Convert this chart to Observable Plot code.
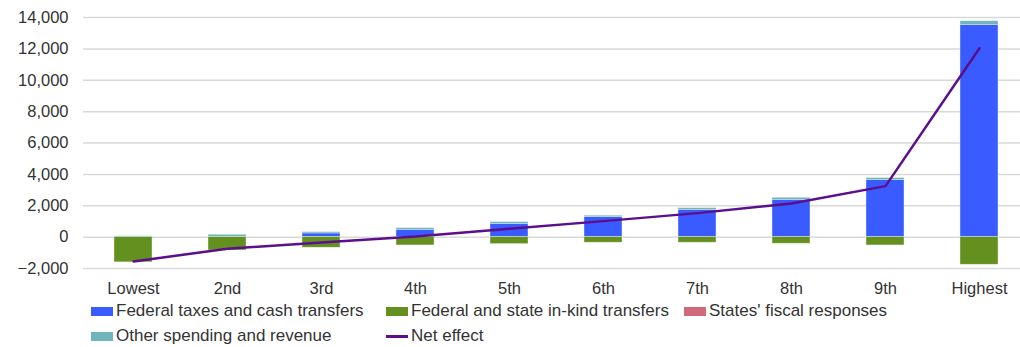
<!DOCTYPE html>
<html>
<head>
<meta charset="utf-8">
<script src="https://cdn.jsdelivr.net/npm/d3@7"></script>
<script src="https://cdn.jsdelivr.net/npm/@observablehq/plot@0.6"></script>
<style>
  html, body { margin: 0; padding: 0; background: #fff; }
  body { width: 1020px; height: 347px; overflow: hidden; font-family: "Liberation Sans", Arial, sans-serif; }
  #legend { display: grid; grid-template-columns: 295px 298px auto; padding-left: 91px; row-gap: 5px; margin-top: 3px; }
  .item { display: flex; align-items: center; font-size: 17px; color: #333; height: 20px; white-space: nowrap; }
  .sw { width: 22px; height: 9px; margin-right: 3px; display: inline-block; }
  .ln { width: 22px; height: 3px; margin-right: 3px; display: inline-block; }
</style>
</head>
<body>
<div id="chart"></div>
<div id="legend"></div>
<script>
const categories = ["Lowest", "2nd", "3rd", "4th", "5th", "6th", "7th", "8th", "9th", "Highest"];
const federalTaxesCash = [0, 0, 235, 470, 850, 1275, 1745, 2380, 3630, 13530];
const inKindTransfers = [-1610, -850, -675, -530, -445, -355, -355, -420, -530, -1760];
const statesFiscal = [0, 0, 0, 0, 0, 0, 0, 0, 0, 0];
const otherSpending = [50, 150, 80, 100, 100, 90, 100, 130, 130, 230];
const netEffect = [-1550, -740, -340, 40, 540, 1020, 1530, 2150, 3250, 12040];
const yTicks = [-2000, 0, 2000, 4000, 6000, 8000, 10000, 12000, 14000];

const seriesNames = ["Federal taxes and cash transfers", "Federal and state in-kind transfers", "States' fiscal responses", "Other spending and revenue"];
const seriesValues = [federalTaxesCash, inKindTransfers, statesFiscal, otherSpending];
const seriesColors = ["#3a5bff", "#63901f", "#d0697a", "#6fb5b9"];
const netColor = "#5b0f8d";

const bars = [];
seriesNames.forEach((s, si) => categories.forEach((c, i) => bars.push({cat: c, series: s, value: seriesValues[si][i]})));
const lineData = categories.map((c, i) => ({cat: c, value: netEffect[i]}));

const chart = Plot.plot({
  width: 1020,
  height: 298,
  marginLeft: 83,
  marginRight: 0,
  marginTop: 17,
  marginBottom: 30,
  style: {fontFamily: "'Liberation Sans', Arial, sans-serif", fontSize: "16.5px", color: "#333", background: "white"},
  x: {domain: categories, range: [83, 1029], paddingInner: 0.6, paddingOuter: 0.3, label: null},
  y: {domain: [-2000, 14000], label: null},
  color: {domain: seriesNames, range: seriesColors},
  marks: [
    Plot.ruleY(yTicks, {stroke: "#d9d9d9", strokeWidth: 1.5}),
    Plot.barY(bars, {x: "cat", y: "value", fill: "series", order: seriesNames, stroke: "#e8f4e8", strokeWidth: 0.6, strokeOpacity: 0.7}),
    Plot.lineY(lineData, {x: "cat", y: "value", stroke: netColor, strokeWidth: 2.5}),
    Plot.axisY({ticks: yTicks, tickSize: 0, tickPadding: 15, tickFormat: d => d3.format(",")(d), fill: "#333"}),
    Plot.axisX({tickSize: 0, tickPadding: 14, fill: "#333"})
  ]
});
document.getElementById("chart").appendChild(chart);

const legend = document.getElementById("legend");
const items = [
  {name: seriesNames[0], color: seriesColors[0], type: "sw"},
  {name: seriesNames[1], color: seriesColors[1], type: "sw"},
  {name: seriesNames[2], color: seriesColors[2], type: "sw"},
  {name: seriesNames[3], color: seriesColors[3], type: "sw"},
  {name: "Net effect", color: netColor, type: "ln"}
];
for (const it of items) {
  const d = document.createElement("div");
  d.className = "item";
  const s = document.createElement("span");
  s.className = it.type;
  s.style.background = it.color;
  d.appendChild(s);
  d.appendChild(document.createTextNode(it.name));
  legend.appendChild(d);
}
</script>
</body>
</html>
